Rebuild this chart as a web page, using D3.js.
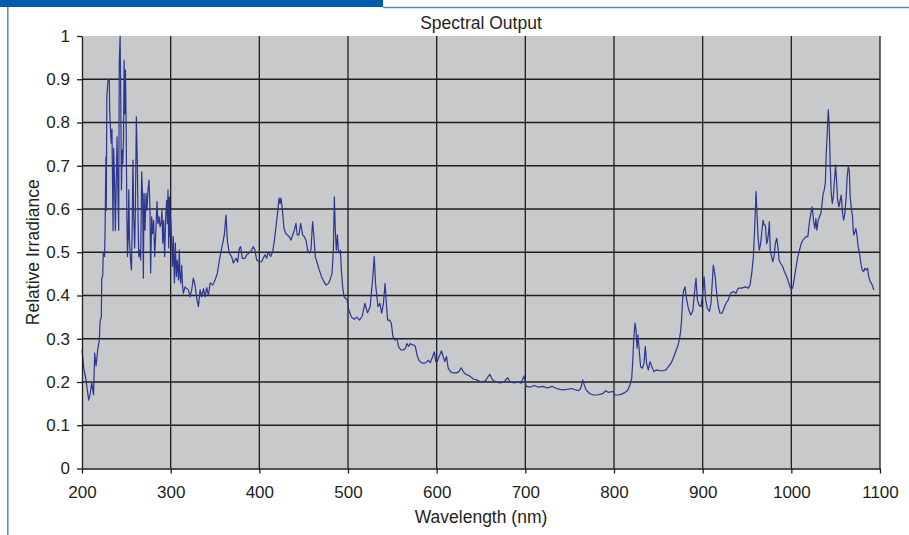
<!DOCTYPE html>
<html>
<head>
<meta charset="utf-8">
<script src="https://cdn.jsdelivr.net/npm/d3@7"></script>
<style>
  body { margin: 0; background: #fff; }
  text { font-family: "Liberation Sans", Arial, sans-serif; fill: #231f20; }
</style>
</head>
<body>
<div id="chart"></div>
<script>
// wavelength (nm) and relative irradiance
const wavelength = [
  200,202,204.5,207.5,209,211,213,214.3,215.8,217.7,219.5,220.5,221.8,222.3,223.3,224,225.5,226,227,227.4,
  228,229.3,230.8,231.2,232,233,233.8,235,235.7,236.8,237.6,238.7,239.5,240.6,241.4,242,243,243.8,244.5,245.3,
  246,246.8,247.5,248.3,249,249.8,250.6,251.3,252,252.8,253.5,254.7,255.8,256.4,257.5,258.3,259.4,260.2,261.3,262.4,
  263.2,264,265,266.2,267.3,268.4,269.2,270,271.1,272.2,273.3,274.4,275.6,276.7,277.4,278.6,279.7,280.8,282,283.5,
  284.6,285.7,286.9,288,289.1,290.2,291,292.1,293.2,294.4,295.5,296.3,297,297.8,298.5,299.3,300,300.8,302,303,
  304.2,305.3,306.4,307.5,308.7,309.8,310.5,311.3,312.4,313.3,314.3,316.2,318,320,321.9,323.7,325.6,327.5,329.4,331.3,
  333.2,335,337,338.8,340.7,342.6,344.5,347.5,350,352.5,355.6,359.4,360.5,362.4,363.9,366,368.8,370.7,373.7,375.5,
  377.5,378.9,380.8,383.8,385.7,388.7,391.3,393.2,395,397,400,402.5,406.4,408.3,410,412.8,415,416.6,418.8,420.7,
  422.2,423.3,424.4,426,427.8,429.7,431.6,433.8,435.7,437.6,439.5,441.3,442.8,444.7,446.6,448.8,450.7,452.6,454.5,456.4,
  458.2,460.1,461.6,463.1,465.4,467.6,470.3,472.9,475.2,477.8,479.7,482,483.5,484.6,485.7,486.8,488,489.1,490.2,491.4,
  492.5,494,495.5,497.4,499,500.4,502,504,507,510,513,516,519,522,525,528,529.6,531,533.8,536,
  538,540,541.8,543,544.7,547,548.8,550.7,553.3,555.2,557,559.7,562,564.6,566.5,568.4,570.3,572.2,574,576,
  577.9,579.8,582.4,585.4,588,590.3,592.9,595.5,597.4,599,600.5,602.8,605.5,607.3,609.2,611.1,613,615.6,618.6,622.4,
  625,627.7,630,632.6,635.3,638.3,641.3,645,650,655,659.9,663,667,672,676,680,683,688,692,695,
  698.6,701,705,710,715,720,725,730,735,739,743,746.7,752.4,756,760,762.5,764.8,766.3,768.5,772,
  776.8,781.3,785,788,790.7,793.7,796.3,799.3,801.2,805,808.7,812.5,815.5,818,820,821,822.2,823.7,824.8,826,
  827,828.6,830,832,833.8,835.3,836.8,838.7,840.6,842.8,845,848,851.8,855.5,858.5,861.2,864.2,866.8,869.5,871.7,
  873.6,875.1,876.2,877.4,878.3,880,882,883.9,886.5,888.8,890.7,892.5,894,895.9,898.2,900,901.6,903.4,905.3,907.6,
  909.4,912,913.9,915.8,917.7,919.6,921.8,924,926.3,928.9,931.5,934.5,937.5,940.2,944,947.7,951.5,953.4,955.3,957.2,
  958.7,960.2,961.3,962.4,963.9,965.4,966.9,968.1,969.2,970.7,972.2,973.3,974.4,975.2,976.3,977.8,979,980.5,982,983.5,
  985,986.1,988,990.3,992.2,994.1,996,997.9,999.8,1001.7,1003.6,1005.4,1007.3,1009.2,1011.1,1013,1014.8,1016.7,1018.6,1020.5,
  1022,1023.5,1025,1026.5,1027.7,1028.8,1030.3,1031.8,1033.3,1034.5,1035.6,1037.1,1038.3,1039.4,1040.5,1041.7,1042.8,1043.9,1045,1046.2,
  1047.3,1048.4,1049.9,1051,1052.2,1053.7,1055.2,1056.3,1057.4,1058.9,1060.4,1061.9,1063,1064.2,1065.3,1066.4,1067.9,1069,1069.8,1070.5,
  1071.7,1072.8,1073.9,1075.4,1076.9,1078.4,1079.9,1081.4,1082.9,1084.4,1085.9,1087.4,1088.9,1090.4,1091.9,1093
];

const irradiance = [
  0.274,0.232,0.205,0.158,0.17,0.198,0.17,0.267,0.237,0.274,0.297,0.343,0.35,0.44,0.445,0.5,0.49,0.551,0.72,0.597,
  0.86,0.898,0.9,0.829,0.79,0.752,0.785,0.55,0.74,0.66,0.55,0.667,0.767,0.628,0.551,0.937,1.0,0.837,0.644,0.736,
  0.705,0.76,0.944,0.82,0.921,0.79,0.582,0.49,0.53,0.644,0.53,0.482,0.459,0.53,0.713,0.582,0.51,0.597,0.813,0.705,
  0.582,0.49,0.505,0.482,0.686,0.628,0.44,0.636,0.551,0.636,0.597,0.644,0.667,0.597,0.452,0.582,0.543,0.574,0.49,0.559,
  0.617,0.566,0.582,0.559,0.566,0.597,0.521,0.574,0.49,0.582,0.62,0.566,0.644,0.51,0.628,0.536,0.58,0.55,0.467,0.536,
  0.429,0.521,0.444,0.482,0.436,0.505,0.443,0.429,0.47,0.424,0.405,0.42,0.416,0.413,0.397,0.413,0.44,0.424,0.393,0.374,
  0.413,0.397,0.416,0.397,0.418,0.4,0.429,0.424,0.436,0.45,0.49,0.528,0.54,0.586,0.528,0.498,0.49,0.475,0.486,0.477,
  0.509,0.513,0.486,0.486,0.494,0.498,0.505,0.513,0.505,0.482,0.478,0.478,0.494,0.486,0.501,0.49,0.501,0.521,0.559,0.594,
  0.625,0.613,0.625,0.598,0.555,0.544,0.54,0.536,0.528,0.54,0.551,0.567,0.54,0.54,0.567,0.54,0.536,0.528,0.505,0.498,
  0.505,0.571,0.536,0.49,0.474,0.459,0.443,0.432,0.424,0.428,0.436,0.451,0.505,0.628,0.551,0.505,0.54,0.505,0.498,0.505,
  0.459,0.42,0.397,0.393,0.39,0.371,0.36,0.35,0.345,0.35,0.343,0.352,0.382,0.36,0.374,0.443,0.49,0.428,0.374,0.382,
  0.359,0.382,0.428,0.39,0.343,0.343,0.336,0.305,0.297,0.3,0.282,0.274,0.274,0.277,0.289,0.282,0.289,0.286,0.286,0.282,
  0.262,0.251,0.245,0.243,0.245,0.25,0.245,0.259,0.27,0.247,0.247,0.259,0.272,0.259,0.247,0.259,0.232,0.224,0.221,0.221,
  0.224,0.233,0.224,0.218,0.216,0.212,0.207,0.205,0.2,0.203,0.218,0.205,0.2,0.198,0.2,0.21,0.2,0.198,0.2,0.197,
  0.214,0.19,0.188,0.192,0.188,0.19,0.186,0.19,0.185,0.183,0.182,0.183,0.185,0.182,0.18,0.185,0.205,0.194,0.182,0.174,
  0.17,0.17,0.172,0.174,0.18,0.176,0.177,0.178,0.17,0.17,0.172,0.176,0.181,0.193,0.209,0.243,0.297,0.336,0.32,0.278,
  0.309,0.27,0.235,0.232,0.243,0.282,0.243,0.228,0.247,0.235,0.224,0.228,0.226,0.226,0.228,0.235,0.243,0.255,0.27,0.282,
  0.297,0.316,0.343,0.39,0.409,0.42,0.39,0.37,0.355,0.363,0.405,0.44,0.39,0.378,0.374,0.405,0.443,0.39,0.37,0.363,
  0.382,0.47,0.447,0.405,0.374,0.359,0.359,0.37,0.382,0.39,0.405,0.409,0.405,0.417,0.417,0.42,0.417,0.424,0.451,0.49,
  0.559,0.64,0.59,0.536,0.505,0.52,0.551,0.574,0.563,0.563,0.52,0.528,0.547,0.571,0.501,0.49,0.478,0.49,0.52,0.532,
  0.51,0.482,0.474,0.467,0.455,0.447,0.436,0.424,0.413,0.42,0.443,0.467,0.49,0.505,0.52,0.528,0.532,0.536,0.536,0.571,
  0.59,0.605,0.574,0.555,0.578,0.551,0.574,0.582,0.59,0.609,0.632,0.644,0.659,0.729,0.775,0.829,0.79,0.698,0.636,0.613,
  0.628,0.659,0.702,0.667,0.621,0.605,0.621,0.632,0.598,0.574,0.59,0.63,0.675,0.698,0.69,0.628,0.598,0.582,0.551,0.54,
  0.547,0.555,0.54,0.513,0.498,0.474,0.459,0.455,0.463,0.459,0.463,0.443,0.432,0.428,0.42,0.413
];

const xTicks = [200, 300, 400, 500, 600, 700, 800, 900, 1000, 1100];
const yTicks = [0, 0.1, 0.2, 0.3, 0.4, 0.5, 0.6, 0.7, 0.8, 0.9, 1];
const yTickLabels = ["0", "0.1", "0.2", "0.3", "0.4", "0.5", "0.6", "0.7", "0.8", "0.9", "1"];

const chartTitle = "Spectral Output";
const xTitle = "Wavelength (nm)";
const yTitle = "Relative Irradiance";

const W = 909, H = 535;
const margin = {top: 36, right: 29, bottom: 66.5, left: 82};
const width = W - margin.left - margin.right;
const height = H - margin.top - margin.bottom;

const svg = d3.select("#chart").append("svg")
    .attr("width", W)
    .attr("height", H);

// page decoration: header bar and frame lines
svg.append("rect")
    .attr("x", 0).attr("y", 0)
    .attr("width", 383).attr("height", 7)
    .attr("fill", "#005bab");
svg.append("line")
    .attr("x1", 383).attr("x2", W)
    .attr("y1", 7.5).attr("y2", 7.5)
    .attr("stroke", "#4f87c6").attr("stroke-width", 1.5);
svg.append("line")
    .attr("x1", 7.8).attr("x2", 7.8)
    .attr("y1", 7).attr("y2", H)
    .attr("stroke", "#4f87c6").attr("stroke-width", 1.5);

const g = svg.append("g")
    .attr("transform", `translate(${margin.left},${margin.top})`);

const x = d3.scaleLinear().domain([200, 1100]).range([0, width]);
const y = d3.scaleLinear().domain([0, 1]).range([height, 0]);

// plot background
g.append("rect")
    .attr("width", width)
    .attr("height", height)
    .attr("fill", "#c8c9cb");

// gridlines
g.append("g")
    .selectAll("line")
    .data(yTicks.filter(d => d > 0 && d < 1))
    .join("line")
    .attr("x1", 0).attr("x2", width)
    .attr("y1", d => y(d)).attr("y2", d => y(d))
    .attr("stroke", "#1e1e1e").attr("stroke-width", 1.3);

g.append("g")
    .selectAll("line")
    .data(xTicks.filter(d => d > 200))
    .join("line")
    .attr("y1", 0).attr("y2", height)
    .attr("x1", d => x(d)).attr("x2", d => x(d))
    .attr("stroke", "#1e1e1e").attr("stroke-width", 1.3);

// spectrum line
const points = wavelength.map((w, i) => [w, irradiance[i]]);
const line = d3.line()
    .x(d => x(d[0]))
    .y(d => y(d[1]));

g.append("path")
    .datum(points)
    .attr("fill", "none")
    .attr("stroke", "#2b3593")
    .attr("stroke-width", 1.2)
    .attr("stroke-linejoin", "round")
    .attr("d", line);

// axes
const xAxis = g.append("g")
    .attr("transform", `translate(0,${height})`)
    .call(d3.axisBottom(x).tickValues(xTicks).tickSize(5).tickSizeOuter(0).tickPadding(12)
        .tickFormat(d3.format("d")));

const yAxis = g.append("g")
    .call(d3.axisLeft(y).tickValues(yTicks).tickSize(5).tickSizeOuter(0).tickPadding(7)
        .tickFormat((d, i) => yTickLabels[i]));

[xAxis, yAxis].forEach(ax => {
    ax.select(".domain").attr("stroke", "#1e1e1e").attr("stroke-width", 1.3);
    ax.selectAll(".tick line").attr("stroke", "#1e1e1e").attr("stroke-width", 1.3);
    ax.selectAll(".tick text")
        .attr("font-family", "Liberation Sans, Arial, sans-serif")
        .attr("font-size", 17)
        .attr("fill", "#231f20");
});

// titles
svg.append("text")
    .attr("x", margin.left + width / 2)
    .attr("y", 29)
    .attr("text-anchor", "middle")
    .attr("font-size", 17.5)
    .text(chartTitle);

svg.append("text")
    .attr("x", margin.left + width / 2)
    .attr("y", 523)
    .attr("text-anchor", "middle")
    .attr("font-size", 17.5)
    .text(xTitle);

svg.append("text")
    .attr("transform", `translate(39,${margin.top + height / 2}) rotate(-90)`)
    .attr("text-anchor", "middle")
    .attr("font-size", 17.5)
    .text(yTitle);
</script>
</body>
</html>
